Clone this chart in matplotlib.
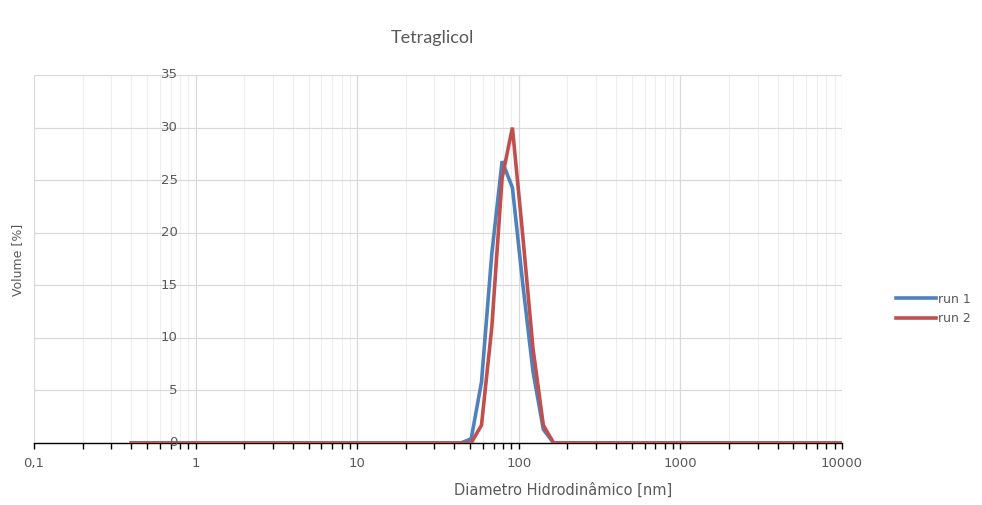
import matplotlib
matplotlib.use("Agg")
import matplotlib.pyplot as plt
from matplotlib.ticker import FixedLocator, FuncFormatter, NullFormatter

# size classes (nm) of the DLS distribution
diameter = [0.4, 0.4632, 0.5365, 0.6213, 0.7195, 0.8332, 0.9649, 1.117, 1.294, 1.499,
            1.736, 2.01, 2.328, 2.696, 3.122, 3.615, 4.187, 4.849, 5.615, 6.503,
            7.531, 8.721, 10.1, 11.7, 13.54, 15.69, 18.17, 21.04, 24.36, 28.21,
            32.67, 37.84, 43.82, 50.75, 58.77, 68.06, 78.82, 91.28, 105.7, 122.4,
            141.8, 164.2, 190.1, 220.2, 255, 295.3, 342, 396.1, 458.7, 531.2,
            615.1, 712.4, 825, 955.4, 1106, 1281, 1484, 1718, 1990, 2305,
            2669, 3091, 3580, 4145, 4801, 5560, 6439, 7456, 8635, 10000]

run1 = [0, 0, 0, 0, 0, 0, 0, 0, 0, 0,
        0, 0, 0, 0, 0, 0, 0, 0, 0, 0,
        0, 0, 0, 0, 0, 0, 0, 0, 0, 0,
        0, 0, 0, 0.4, 5.8, 18.0, 26.8, 24.3, 15.2, 6.8,
        1.3, 0, 0, 0, 0, 0, 0, 0, 0, 0,
        0, 0, 0, 0, 0, 0, 0, 0, 0, 0,
        0, 0, 0, 0, 0, 0, 0, 0, 0, 0]

run2 = [0, 0, 0, 0, 0, 0, 0, 0, 0, 0,
        0, 0, 0, 0, 0, 0, 0, 0, 0, 0,
        0, 0, 0, 0, 0, 0, 0, 0, 0, 0,
        0, 0, 0, 0, 1.7, 11.0, 25.2, 30.0, 19.8, 9.0,
        1.7, 0, 0, 0, 0, 0, 0, 0, 0, 0,
        0, 0, 0, 0, 0, 0, 0, 0, 0, 0,
        0, 0, 0, 0, 0, 0, 0, 0, 0, 0]

x_ticks = [0.1, 1, 10, 100, 1000, 10000]
x_labels = ["0,1", "1", "10", "100", "1000", "10000"]
y_ticks = [0, 5, 10, 15, 20, 25, 30, 35]

grey = "#595959"
plt.rcParams["font.family"] = ["DejaVu Sans"]

fig = plt.figure(figsize=(9.82, 5.05), dpi=100)
ax = fig.add_axes([34 / 982, 1 - 443 / 505, 808 / 982, 368 / 505])

ax.plot(diameter, run1, color="#4F81BD", lw=2.6, label="run 1", solid_joinstyle="miter")
ax.plot(diameter, run2, color="#C0504D", lw=2.6, label="run 2", solid_joinstyle="miter")

ax.set_xscale("log")
ax.set_xlim(0.1, 10000)
ax.set_ylim(0, 35)

minors = [m * 10.0 ** e for e in range(-1, 4) for m in range(2, 10)]
ax.xaxis.set_major_locator(FixedLocator(x_ticks))
ax.xaxis.set_minor_locator(FixedLocator(minors))
ax.xaxis.set_major_formatter(FuncFormatter(lambda v, p: x_labels[x_ticks.index(v)] if v in x_ticks else ""))
ax.xaxis.set_minor_formatter(NullFormatter())
ax.set_yticks(y_ticks)
ax.tick_params(axis="y", left=False, labelleft=False)
ax.tick_params(axis="x", which="both", direction="out", color="black", width=1, labelsize=9.5,
               labelcolor=grey, pad=6)
ax.tick_params(axis="x", which="major", length=4)
ax.tick_params(axis="x", which="minor", length=4)

ax.grid(True, which="major", color="#D9D9D9", lw=0.9)
ax.grid(True, which="minor", axis="x", color="#EEEEEE", lw=0.8)
ax.set_axisbelow(True)
for side in ["top", "right", "left"]:
    ax.spines[side].set_visible(False)
ax.spines["bottom"].set_color("black")
ax.spines["bottom"].set_linewidth(1)
ax.spines["bottom"].set_zorder(1)

# value labels sit next to the vertical axis, which crosses at x = 1
for v in y_ticks:
    ax.annotate(str(v), xy=(1, v), xytext=(-13, 0), textcoords="offset points",
                ha="right", va="center", fontsize=9.5, color=grey, zorder=5)

fig.text(18 / 982, 1 - 260 / 505, "Volume [%]", rotation=90, ha="center", va="center",
         fontsize=9, color=grey)
fig.text(563 / 982, 1 - 490 / 505, "Diametro Hidrodinâmico [nm]", ha="center", va="center",
         fontsize=10.5, color=grey)
fig.text(432 / 982, 1 - 38 / 505, "Tetraglicol", ha="center", va="center",
         fontsize=13, color=grey, family=["Lato", "DejaVu Sans"])

fig.legend(loc="center left", bbox_to_anchor=(885 / 982, 1 - 309 / 505), frameon=False,
           fontsize=9, labelcolor=grey, handlelength=3.2, handletextpad=0.1,
           labelspacing=0.55)

fig.savefig("out.png", dpi=100)
